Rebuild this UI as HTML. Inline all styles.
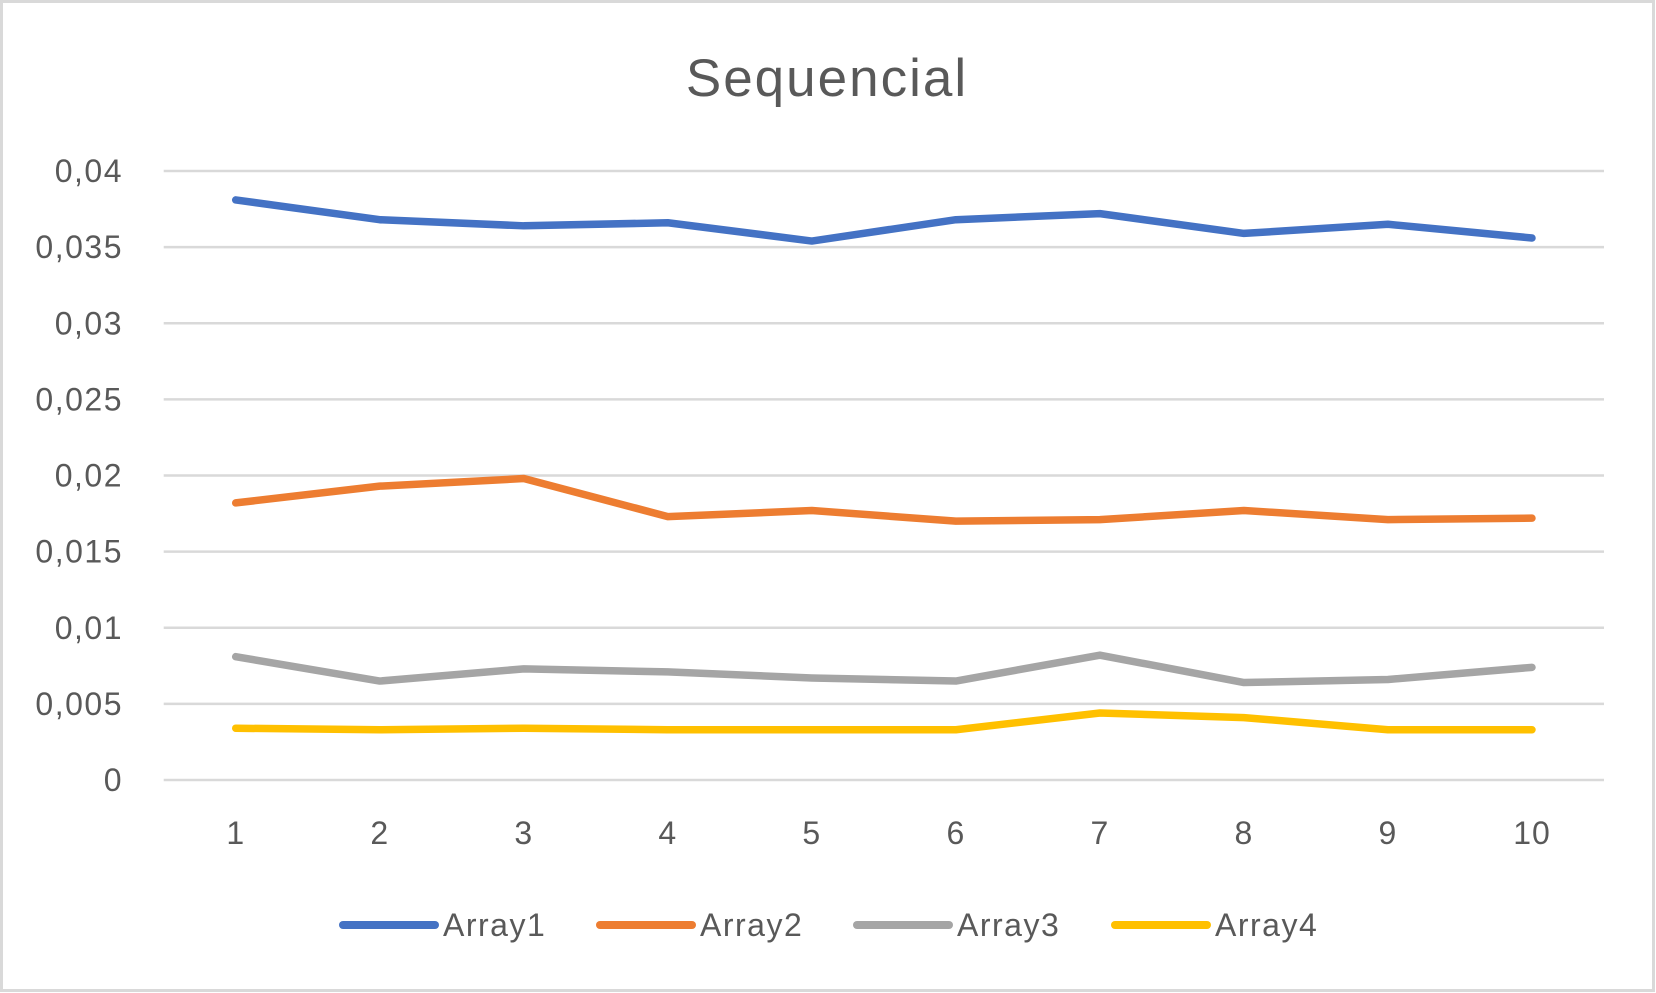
<!DOCTYPE html>
<html><head><meta charset="utf-8"><style>
html,body{margin:0;padding:0;background:#fff}
svg{display:block;font-family:"Liberation Sans",sans-serif}
</style></head><body>
<svg id="chart" width="1656" height="993" viewBox="0 0 1656 993">
<rect x="1.5" y="1.5" width="1652" height="989" fill="#fff" stroke="#D9D9D9" stroke-width="3"/>
<text x="827" y="96" text-anchor="middle" font-size="53" letter-spacing="2" fill="#595959">Sequencial</text>
<g id="grid"></g><g id="yticks"></g><g id="xticks"></g><g id="series"></g><g id="legend"></g>
</svg>
<script>
const categories=["1","2","3","4","5","6","7","8","9","10"];
const yTickLabels=["0","0,005","0,01","0,015","0,02","0,025","0,03","0,035","0,04"];
const yTickValues=[0,0.005,0.01,0.015,0.02,0.025,0.03,0.035,0.04];
const seriesNames=["Array1","Array2","Array3","Array4"];
const array1=[0.0381,0.0368,0.0364,0.0366,0.0354,0.0368,0.0372,0.0359,0.0365,0.0356];
const array2=[0.0182,0.0193,0.0198,0.0173,0.0177,0.0170,0.0171,0.0177,0.0171,0.0172];
const array3=[0.0081,0.0065,0.0073,0.0071,0.0067,0.0065,0.0082,0.0064,0.0066,0.0074];
const array4=[0.0034,0.0033,0.0034,0.0033,0.0033,0.0033,0.0044,0.0041,0.0033,0.0033];
const colors=["#4472C4","#ED7D31","#A5A5A5","#FFC000"];
const NS="http://www.w3.org/2000/svg";
const x0=163.7,x1=1604,y0=780,yTop=171;
const yScale=v=>y0-(v/0.04)*(y0-yTop);
const step=(x1-x0)/categories.length;
const xScale=i=>x0+step*(i+0.5);
function mk(t,a,p){const e=document.createElementNS(NS,t);for(const k in a)e.setAttribute(k,a[k]);p.appendChild(e);return e;}
const grid=document.getElementById('grid'),yt=document.getElementById('yticks'),xt=document.getElementById('xticks'),ser=document.getElementById('series'),leg=document.getElementById('legend');
yTickValues.forEach((v,i)=>{
 const l=mk('line',{x1:x0,x2:x1,y1:yScale(v),y2:yScale(v),stroke:'#D9D9D9','stroke-width':2.5},grid);
 
 
 const t=mk('text',{x:123,y:yScale(v)+11,'text-anchor':'end','font-size':32,'letter-spacing':1.5,fill:'#595959'},yt);
 t.textContent=yTickLabels[i];
 
 
});
categories.forEach((c,i)=>{
 const t=mk('text',{x:xScale(i),y:844,'text-anchor':'middle','font-size':32,'letter-spacing':1,fill:'#595959'},xt);
 t.textContent=c;
 
 
});
[array1,array2,array3,array4].forEach((arr,s)=>{
 const p=mk('polyline',{points:arr.map((v,i)=>xScale(i)+','+yScale(v)).join(' '),fill:'none',stroke:colors[s],'stroke-width':7.5,'stroke-linejoin':'round','stroke-linecap':'round'},ser);
 
 
});
const legX=[343,600,857,1115];
seriesNames.forEach((n,s)=>{
 const g=mk('g',{},leg);
 
 
 mk('line',{x1:legX[s],x2:legX[s]+92,y1:925,y2:925,stroke:colors[s],'stroke-width':8,'stroke-linecap':'round'},g);
 const t=mk('text',{x:legX[s]+100,y:936,'font-size':32,'letter-spacing':1.5,fill:'#595959'},g);
 t.textContent=n;
});
</script>
</body></html>
